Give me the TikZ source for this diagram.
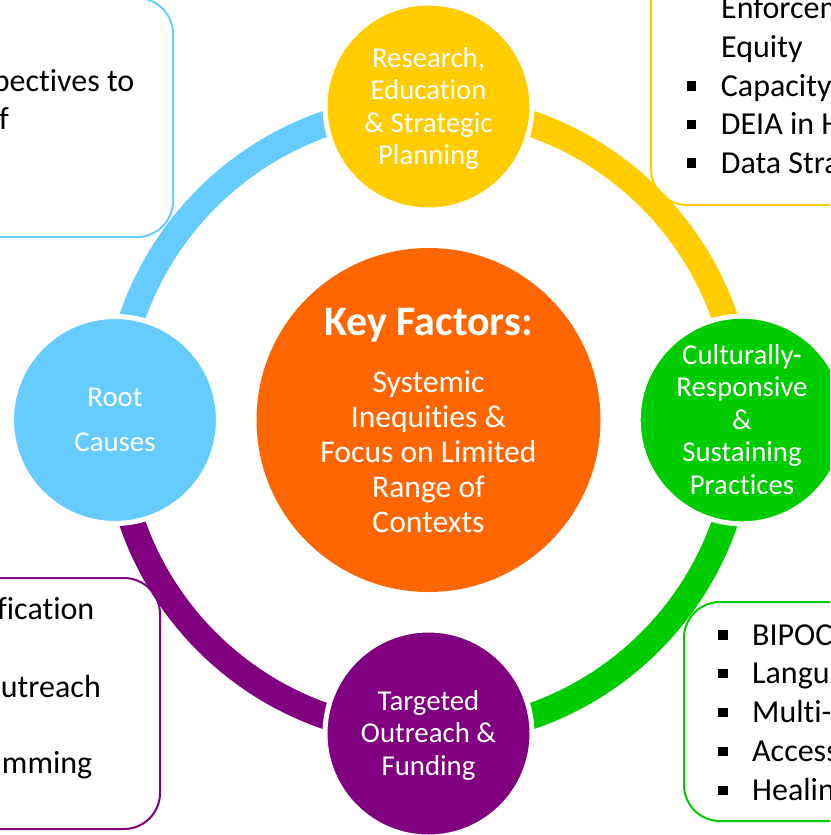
\documentclass[tikz,border=0pt]{standalone}
\usepackage{fontspec}
\setmainfont{Carlito}[Ligatures=NoCommon]
\usetikzlibrary{backgrounds}

\definecolor{ringblue}{HTML}{66CCFF}
\definecolor{ringyellow}{HTML}{FFCC00}
\definecolor{ringgreen}{HTML}{00CC00}
\definecolor{ringpurple}{HTML}{800080}
\definecolor{keyorange}{HTML}{FF6600}

\newcommand{\sqbullet}{\rule[5.5pt]{9.5pt}{9.5pt}\hspace{24.5pt}}
\newcommand{\upstrut}{\rule{0pt}{25pt}}
\newcommand{\downstrut}{\rule[-6.4pt]{0pt}{6.4pt}}

\tikzset{
	stage/.style={circle,fill=#1,draw=white,line width=5pt,minimum size=207pt,
		inner sep=0pt,text=white,align=center,font=\fontsize{28.8}{32.5}\selectfont},
	band/.style={line width=26pt,draw=#1},
	panel/.style={draw=#1,line width=2pt,rounded corners=36pt},
	listtext/.style={inner sep=0pt,font=\fontsize{32}{38.7}\selectfont},
	titletext/.style={inner sep=0pt,text=white,font=\fontsize{42}{46}\selectfont\bfseries},
	bodytext/.style={inner sep=0pt,text=white,align=center,font=\fontsize{31.6}{35}\selectfont}
}

\begin{document}
\begin{tikzpicture}[x=1pt,y=1pt]
	\useasboundingbox (0,0) rectangle (830,-835);
	\clip (0,0) rectangle (830,-835);
	
	% side panels
	\draw[panel=ringblue] (-300,2) rectangle (173,-237);
	\draw[panel=ringyellow] (651,60) rectangle (1100,-205);
	\draw[panel=ringpurple] (-300,-578) rectangle (160,-829);
	\draw[panel=ringgreen] (684,-602) rectangle (1100,-821);
	
	% panel texts
	\node[listtext,anchor=base east] (persp) at (134.5,-91) {pectives to};
	\node[listtext,anchor=base east] (perspb) at (9,-129.5) {f};
	
	\node[listtext,anchor=base west] (enf) at (721,-18.5) {Enforcem};
	\node[listtext,anchor=base west] (equity) at (721,-57) {Equity};
	\foreach \entry [count=\i from 0] in {Capacity, DEIA in H, Data Stra}
		\node[listtext,anchor=base west] (yellow\i) at (686.7,{-96-38.6*\i}) {\sqbullet\entry};
	
	\node[listtext,anchor=base east] (purple0) at (94.5,-619) {fication};
	\node[listtext,anchor=base east] (purple1) at (101,-697) {utreach};
	\node[listtext,anchor=base east] (purple2) at (92.5,-773.5) {mming};
	
	\foreach \entry [count=\i from 0] in {BIPOC, Langua, Multi-, Access, Healin}
		\node[listtext,anchor=base west] (green\i) at (718,{-645-38.9*\i}) {\sqbullet\entry};
	
	% centre
	\node[circle,fill=keyorange,minimum size=344pt,inner sep=0pt] (keyfactors) at (428.5,-420) {};
	\node[titletext,anchor=base] (keytitle) at (428.5,-335) {Key Factors:};
	\node[bodytext] (keybody) at (428.5,-452.5)
		{\rule{0pt}{27pt}Systemic\\Inequities \&\\Focus on Limited\\Range of\\Contexts\rule[-6.8pt]{0pt}{6.8pt}};
	
	% ring of stages
	\node[stage=ringyellow] (research) at (428.5,-106.5)
		{\upstrut Research,\\Education\\\& Strategic\\Planning\downstrut};
	\node[stage=ringgreen] (culture) at (742,-420)
		{\upstrut Culturally-\\Responsive\\\&\\Sustaining\\Practices\downstrut};
	\node[stage=ringpurple] (outreach) at (428.5,-733.5)
		{\upstrut Targeted\\Outreach \&\\Funding\downstrut};
	\node[stage=ringblue] (roots) at (115,-420)
		{\upstrut Root\\[12.5pt]Causes\downstrut};
	
	\begin{scope}[on background layer]
		\draw[band=ringblue] (roots.center) arc[start angle=180,end angle=90,radius=313.5];
		\draw[band=ringyellow] (research.center) arc[start angle=90,end angle=0,radius=313.5];
		\draw[band=ringgreen] (culture.center) arc[start angle=0,end angle=-90,radius=313.5];
		\draw[band=ringpurple] (outreach.center) arc[start angle=270,end angle=180,radius=313.5];
	\end{scope}
\end{tikzpicture}
\end{document}
